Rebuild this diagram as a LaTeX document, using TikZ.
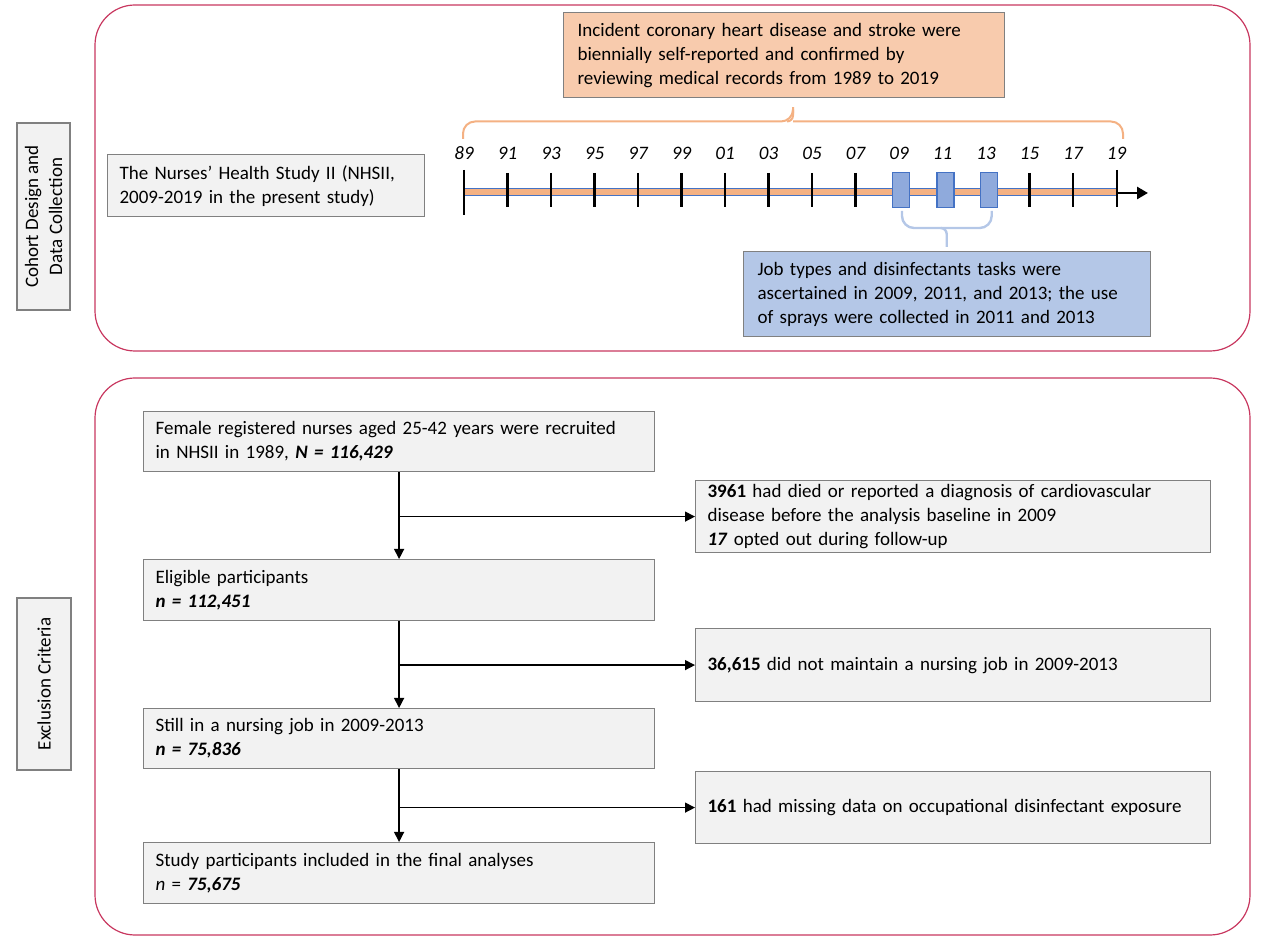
\documentclass[tikz,border=0pt]{standalone}
\usepackage{fontspec}
\setmainfont{Carlito}
\usetikzlibrary{positioning,calc,arrows.meta}

\definecolor{framered}{HTML}{C8375F}
\definecolor{boxgray}{HTML}{F2F2F2}
\definecolor{edgegray}{HTML}{808080}
\definecolor{peach}{HTML}{F8CBAD}
\definecolor{peachline}{HTML}{F4B183}
\definecolor{sky}{HTML}{B4C7E7}
\definecolor{skybox}{HTML}{8FAADC}
\definecolor{skyline}{HTML}{4472C4}

\begin{document}
\begin{tikzpicture}[
  x=0.5pt, y=-0.5pt,
  every node/.style={font=\fontsize{9.5}{12}\selectfont},
  gray node/.style={
    draw=edgegray,
    fill=boxgray,
    line width=0.6pt,
    anchor=north west,
    align=left,
    inner xsep=6pt,
    inner ysep=0pt,
  },
  flow node/.style={
    gray node,
    text width=243.5pt,
    minimum height=30pt,
  },
  drop node/.style={
    gray node,
    text width=245.5pt,
    minimum height=36pt,
  },
  side node/.style={
    gray node,
    anchor=center,
    align=center,
    rotate=90,
    inner xsep=0pt,
  },
  wave node/.style={
    draw=skyline,
    fill=skybox,
    line width=0.6pt,
    inner sep=0pt,
    minimum width=8.5pt,
    minimum height=17.3pt,
  },
  year node/.style={font=\fontsize{9.5}{12}\selectfont\itshape},
  frame/.style={draw=framered, line width=0.6pt, rounded corners=20pt},
  tick line/.style={line width=1.4pt},
  flow arrow/.style={line width=0.65pt, -{Triangle[length=5pt,width=5pt]}},
  flow line/.style={line width=0.65pt},
]
  \useasboundingbox (0,0) rectangle (1270,940);

  % panels
  \draw[frame] (95,5) rectangle (1250,351);
  \draw[frame] (95,378) rectangle (1250,935);

  \node[side node,minimum width=93.5pt,minimum height=26.5pt] (design-label) at (43.5,216.5)
    {Cohort Design and\\Data Collection};
  \node[side node,minimum width=86pt,minimum height=27pt] (exclusion-label) at (44,684)
    {Exclusion Criteria};

  % cohort design
  \node[gray node,text width=146.5pt,minimum height=31pt] (nhs-note) at (107,154)
    {The Nurses’ Health Study II (NHSII,\\2009-2019 in the present study)};
  \node[gray node,fill=peach,text width=206.5pt,minimum height=42.5pt,inner xsep=7pt] (disease-note) at (563,12)
    {Incident coronary heart disease and stroke were\\biennially self-reported and confirmed by\\reviewing medical records from 1989 to 2019};
  \node[gray node,fill=sky,text width=189.5pt,minimum height=42.5pt,inner xsep=7pt] (job-note) at (743,251)
    {Job types and disinfectants tasks were\\ascertained in 2009, 2011, and 2013; the use\\of sprays were collected in 2011 and 2013};

  % time line
  \draw[fill=peachline,draw=skyline,line width=0.5pt] (464,189) rectangle (1117,196);
  \foreach \yr [count=\k from 0] in {89,91,93,95,97,99,01,03,05,07,09,11,13,15,17,19}
    \node[year node] (year-\k) at (464+43.5*\k,153) {\yr};
  \foreach \k in {1,...,14}
    \draw[tick line] (464+43.5*\k,173) -- (464+43.5*\k,207);
  \draw[tick line] (464,170) -- (464,215);
  \draw[tick line] (1117,170) -- (1117,207);
  \coordinate (time-end) at (1148,193);
  \draw[line width=1.3pt,-{Triangle[length=5.5pt,width=6pt]}] (1117,193) -- (time-end);

  \node[wave node] (wave-09) at (901,190) {};
  \node[wave node] (wave-11) at (945.5,190) {};
  \node[wave node] (wave-13) at (989.2,190) {};

  % braces
  \coordinate (disease-brace) at (793,121.5);
  \draw[peachline,line width=1pt,rounded corners=6pt]
    (463,139) |- (disease-brace) -- ++(0,-8) (1123,139) |- (disease-brace);
  \draw[peachline,line width=1pt,rounded corners=3pt,shorten >=4.5pt]
    ($(disease-brace)+(-6,0)$) -| (disease-brace |- disease-note.south);
  \coordinate (jobs-brace) at (946.7,228);
  \draw[sky,line width=1.2pt,rounded corners=6pt]
    ($(wave-09.south)+(1,3)$) |- (jobs-brace) ($(wave-13.south)+(2.5,3)$) |- (jobs-brace);
  \draw[sky,line width=1.2pt,rounded corners=3pt,shorten >=2pt]
    ($(jobs-brace)+(-6,0)$) -| (jobs-brace |- job-note.north);

  % exclusion flow
  \node[flow node] (recruited) at (143,411)
    {Female registered nurses aged 25-42 years were recruited\\in NHSII in 1989, \textbf{\textit{N = 116,429}}};
  \node[drop node] (drop-cvd) at (695,480)
    {\textbf{3961} had died or reported a diagnosis of cardiovascular\\disease before the analysis baseline in 2009\\\textbf{\textit{17}} opted out during follow-up};
  \node[flow node,minimum height=30.5pt] (eligible) at (143,559)
    {Eligible participants\\\textbf{\textit{n = 112,451}}};
  \node[drop node,minimum height=36.5pt] (drop-job) at (695,628)
    {\textbf{36,615} did not maintain a nursing job in 2009-2013};
  \node[flow node] (nursing) at (143,708)
    {Still in a nursing job in 2009-2013\\\textbf{\textit{n = 75,836}}};
  \node[drop node] (drop-missing) at (695,771)
    {\textbf{161} had missing data on occupational disinfectant exposure};
  \node[flow node,minimum height=30.5pt] (final) at (143,842)
    {Study participants included in the final analyses\\\textit{n} = \textbf{\textit{75,675}}};

  \draw[flow arrow] (recruited) -- (eligible);
  \draw[flow arrow] (recruited.south |- drop-cvd.west) -- (drop-cvd.west);
  \draw[flow arrow] (eligible) -- (nursing);
  \draw[flow arrow] (eligible.south |- drop-job.west) -- (drop-job.west);
  \draw[flow arrow] (nursing) -- (final);
  \draw[flow arrow] (nursing.south |- drop-missing.west) -- (drop-missing.west);
\end{tikzpicture}
\end{document}
